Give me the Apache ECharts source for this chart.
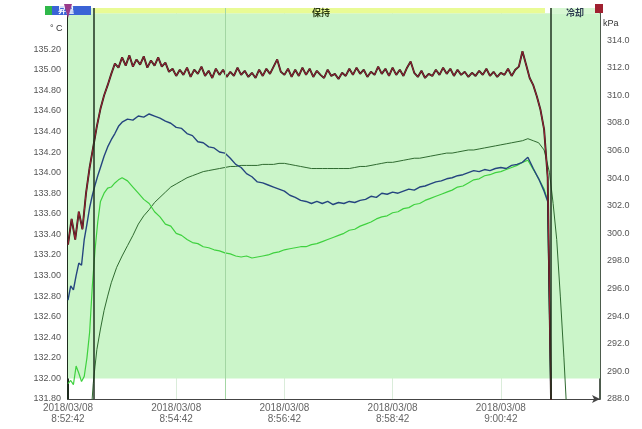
<!DOCTYPE html>
<html>
<head>
<meta charset="utf-8">
<script src="https://cdn.jsdelivr.net/npm/echarts@6/dist/echarts.min.js"></script>
<style>
  html, body { margin: 0; padding: 0; background: #ffffff; }
  #chart { width: 642px; height: 429px; }
</style>
</head>
<body>
<div id="chart"></div>
<script>
// Elapsed seconds from the start of the run (2018/03/08 8:52:42)
const runDate = '2018/03/08';
const startSec = 8 * 3600 + 52 * 60 + 42;
const xTickStep = 120;

// Phase boundaries (seconds) and phase labels
const phaseBounds = [29, 535];
const phaseNames = ['昇温', '保持', '冷却'];

// Temperature probe 1 (°C), sampled every 4 s
const probe1Times = [0,4,8,12,16,20,24,28,32,36,40,44,48,52,56,60,64,68,72,76,80,84,88,92,96,100,104,108,112,116,120,124,128,132,136,140,144,148,152,156,160,164,168,172,176,180,184,188,192,196,200,204,208,212,216,220,224,228,232,236,240,244,248,252,256,260,264,268,272,276,280,284,288,292,296,300,304,308,312,316,320,324,328,332,336,340,344,348,352,356,360,364,368,372,376,380,384,388,392,396,400,404,408,412,416,420,424,428,432,436,440,444,448,452,456,460,464,468,472,476,480,484,488,492,496,500,504,508,512,516,520,524,528,532,536];
const probe1Vals = [133.30,133.55,133.35,133.62,133.45,133.80,134.05,134.25,134.45,134.62,134.75,134.85,134.96,135.06,135.02,135.12,135.04,135.14,135.03,135.10,135.05,135.13,135.02,135.09,135.04,135.12,135.03,135.07,134.98,135.01,134.94,135.00,134.95,135.02,134.93,135.00,134.96,135.03,134.94,134.99,134.92,135.01,134.95,135.00,134.93,134.98,134.94,135.02,134.95,134.99,134.93,134.97,134.92,135.00,134.94,135.01,134.96,135.03,135.10,134.98,134.95,135.01,134.93,135.00,134.94,135.02,134.95,135.01,134.93,134.99,134.95,134.92,135.00,134.94,134.96,134.91,134.97,134.94,135.01,134.95,135.02,134.96,135.00,134.93,134.98,134.95,135.03,134.96,135.01,134.94,135.02,134.95,135.00,134.94,135.02,135.08,134.97,134.93,134.99,134.92,134.96,134.94,135.00,134.95,135.02,134.96,135.01,134.94,135.00,134.95,134.98,134.93,134.97,134.94,134.99,134.95,135.01,134.94,134.98,134.93,134.97,134.95,135.01,134.94,135.00,135.03,135.18,135.05,134.92,134.85,134.74,134.61,134.42,133.95,131.60];

// Probes 2 and 3 (°C) share one time base
const probe23Times = [0,3,6,9,12,15,18,21,24,27,30,33,36,40,44,48,52,56,60,66,72,78,84,90,96,102,108,114,120,126,132,138,144,150,156,162,168,174,180,186,192,198,204,210,216,222,228,234,240,246,252,258,264,270,276,282,288,294,300,306,312,318,324,330,336,342,348,354,360,366,372,378,384,390,396,402,408,414,420,426,432,438,444,450,456,462,468,474,480,486,492,498,504,510,516,522,528,532,536];
const probe2Vals = [132.76,132.90,132.86,133.00,133.12,133.10,133.35,133.50,133.66,133.78,133.88,133.97,134.05,134.16,134.25,134.32,134.38,134.45,134.49,134.52,134.51,134.55,134.54,134.57,134.55,134.53,134.50,134.48,134.44,134.43,134.38,134.36,134.30,134.29,134.25,134.24,134.20,134.19,134.14,134.08,134.05,133.99,133.96,133.91,133.90,133.88,133.86,133.84,133.82,133.78,133.76,133.73,133.72,133.70,133.72,133.70,133.72,133.69,133.71,133.70,133.72,133.71,133.73,133.74,133.77,133.76,133.80,133.79,133.81,133.80,133.82,133.84,133.83,133.86,133.87,133.89,133.91,133.92,133.94,133.95,133.97,133.98,134.00,134.02,134.01,134.03,134.02,134.04,134.05,134.04,134.07,134.08,134.10,134.15,134.04,133.94,133.82,133.72,131.60];
const probe3Vals = [131.95,131.98,131.94,132.12,132.05,131.97,132.02,132.20,132.45,132.90,133.25,133.52,133.72,133.80,133.85,133.86,133.90,133.93,133.95,133.92,133.86,133.80,133.74,133.70,133.62,133.57,133.50,133.48,133.41,133.39,133.35,133.32,133.31,133.28,133.27,133.25,133.24,133.22,133.21,133.19,133.18,133.19,133.17,133.18,133.19,133.20,133.22,133.23,133.25,133.26,133.27,133.28,133.28,133.30,133.31,133.33,133.35,133.37,133.39,133.41,133.44,133.45,133.48,133.50,133.52,133.55,133.57,133.58,133.61,133.62,133.65,133.66,133.69,133.70,133.73,133.75,133.77,133.79,133.81,133.83,133.86,133.87,133.90,133.93,133.94,133.97,133.98,134.00,134.01,134.03,134.05,134.07,134.10,134.12,134.03,133.94,133.84,133.73,131.60];

// Probe 4 (°C), slow-responding sensor
const probe4Times = [26,28,30,32,36,40,44,48,54,60,66,72,78,84,90,96,102,108,114,120,126,132,138,144,150,156,162,168,174,180,186,192,198,204,210,216,222,228,234,240,246,252,258,264,270,276,282,288,294,300,306,312,318,324,330,336,342,348,354,360,366,372,378,384,390,396,402,408,414,420,426,432,438,444,450,456,462,468,474,480,486,492,498,504,510,516,522,528,534,538,542,546,550,553];
const probe4Vals = [131.70,131.95,132.12,132.28,132.48,132.66,132.80,132.93,133.08,133.19,133.29,133.39,133.50,133.58,133.64,133.71,133.76,133.81,133.86,133.89,133.92,133.95,133.97,133.99,134.01,134.02,134.03,134.04,134.05,134.06,134.06,134.07,134.07,134.07,134.07,134.08,134.08,134.08,134.09,134.09,134.08,134.07,134.06,134.05,134.04,134.04,134.04,134.04,134.04,134.04,134.04,134.04,134.05,134.06,134.06,134.07,134.08,134.09,134.10,134.10,134.11,134.12,134.13,134.14,134.14,134.15,134.16,134.17,134.18,134.19,134.19,134.20,134.21,134.22,134.22,134.23,134.24,134.25,134.26,134.27,134.28,134.29,134.30,134.31,134.33,134.31,134.29,134.22,134.00,133.70,133.35,132.80,132.20,131.70];

// Axis ranges
const tempMin = 131.8, tempMax = 135.6, tempStep = 0.2, tempLabelTop = 135.2;
const presMin = 288, presMax = 316.32, presStep = 2, presLabelTop = 314;
const timeMax = 590;

function pairs(ts, vs) { return ts.map((t, i) => [t, vs[i]]); }
function clock(sec) {
  const s = startSec + sec;
  const h = Math.floor(s / 3600), m = Math.floor((s % 3600) / 60), ss = s % 60;
  return h + ':' + String(m).padStart(2, '0') + ':' + String(ss).padStart(2, '0');
}

const labelFont = { fontFamily: 'Liberation Sans, Arial, sans-serif', fontSize: 9, color: '#555' };

const chart = echarts.init(document.getElementById('chart'), null, { renderer: 'canvas' });

const option = {
  animation: false,
  backgroundColor: '#ffffff',
  grid: { left: 68, right: 42, top: 8, bottom: 30, containLabel: false },
  xAxis: {
    type: 'value', min: 0, max: timeMax, interval: xTickStep,
    axisLine: { lineStyle: { color: '#444', width: 1.2 }, symbol: ['none', 'arrow'], symbolSize: [6, 8] },
    axisTick: { show: false },
    splitLine: { show: true, lineStyle: { color: 'rgba(150,200,150,0.35)', width: 1 } },
    axisLabel: Object.assign({}, labelFont, {
      fontSize: 10, lineHeight: 11, margin: 4, color: '#666',
      formatter: v => runDate + '\n' + clock(v),
      showMaxLabel: false
    })
  },
  yAxis: [
    {
      type: 'value', min: tempMin, max: tempMax, interval: tempStep, position: 'left',
      axisLine: { show: true, lineStyle: { color: '#1d2b1d', width: 2 } },
      axisTick: { show: false },
      splitLine: { show: true, lineStyle: { color: 'rgba(255,255,255,0.5)', width: 1 } },
      axisLabel: Object.assign({}, labelFont, {
        margin: 7,
        formatter: v => v > tempLabelTop + 0.001 ? '' : v.toFixed(2)
      })
    },
    {
      type: 'value', min: presMin, max: presMax, interval: presStep, position: 'right',
      axisLine: { show: true, lineStyle: { color: '#1d2b1d', width: 1.5 } },
      axisTick: { show: false },
      splitLine: { show: false },
      axisLabel: Object.assign({}, labelFont, {
        margin: 7,
        formatter: v => v > presLabelTop + 0.01 ? '' : v.toFixed(1)
      })
    }
  ],
  series: [
    {
      // background bands: process zone and phase strip
      type: 'line', data: [], silent: true,
      markArea: {
        silent: true,
        data: [
          [{ xAxis: 0, yAxis: 132.0, itemStyle: { color: '#cbf5c9' } }, { xAxis: timeMax, yAxis: tempMax - 0.05 }],
          [{ xAxis: 0, yAxis: tempMax - 0.05, itemStyle: { color: '#d7f7d2' } }, { xAxis: phaseBounds[0], yAxis: tempMax }],
          [{ xAxis: phaseBounds[0], yAxis: tempMax - 0.05, itemStyle: { color: '#e9fb95' } }, { xAxis: phaseBounds[1] - 6, yAxis: tempMax }],
          [{ xAxis: phaseBounds[1], yAxis: tempMax - 0.05, itemStyle: { color: '#d7f7d2' } }, { xAxis: timeMax, yAxis: tempMax }]
        ]
      },
      markLine: {
        silent: true, symbol: 'none', label: { show: false },
        data: [
          { xAxis: 174, lineStyle: { color: '#a3d6a3', width: 1, type: 'solid' } },
          { xAxis: phaseBounds[0], lineStyle: { color: '#1f321f', width: 1.5, type: 'solid' } },
          { xAxis: phaseBounds[1], lineStyle: { color: '#1f321f', width: 1.5, type: 'solid' } }
        ]
      }
    },
    {
      name: '温度4', type: 'line', showSymbol: false, symbol: 'none',
      data: pairs(probe4Times, probe4Vals),
      lineStyle: { color: '#2f6a30', width: 1 }
    },
    {
      name: '温度3', type: 'line', showSymbol: false, symbol: 'none',
      data: pairs(probe23Times, probe3Vals),
      lineStyle: { color: '#3fd13f', width: 1.2 }
    },
    {
      name: '温度2', type: 'line', showSymbol: false, symbol: 'none',
      data: pairs(probe23Times, probe2Vals),
      lineStyle: { color: '#25457f', width: 1.4 }
    },
    {
      name: '温度1', type: 'line', showSymbol: false, symbol: 'none',
      data: pairs(probe1Times, probe1Vals),
      lineStyle: { color: '#2a1a1a', width: 1.9 }
    },
    {
      name: '温度1', type: 'line', showSymbol: false, symbol: 'none',
      data: pairs(probe1Times, probe1Vals),
      lineStyle: { color: '#9a2433', width: 1 }
    }
  ],
  graphic: [
    { type: 'text', left: 50, top: 24, z: 100, style: { text: '° C', font: '9px Liberation Sans, Arial', fill: '#333' } },
    { type: 'text', left: 603, top: 19, z: 100, style: { text: 'kPa', font: '9px Liberation Sans, Arial', fill: '#333' } },
    { type: 'rect', z: 100, shape: { x: 45, y: 6, width: 7, height: 9 }, style: { fill: '#2fb84a' } },
    { type: 'rect', z: 100, shape: { x: 52, y: 6, width: 39, height: 9 }, style: { fill: '#3a63d6' } },
    { type: 'text', z: 101, x: 58, y: 6, style: { text: phaseNames[0], font: 'bold 8px "Noto Sans CJK JP"', fill: '#ffffff', textVerticalAlign: 'top' } },
    { type: 'polygon', z: 101, shape: { points: [[64, 4], [72, 4], [68, 18]] }, style: { fill: '#9a3a8a' } },
    { type: 'text', z: 101, x: 312, y: 8, style: { text: phaseNames[1], font: 'bold 9px "Noto Sans CJK JP"', fill: '#2b3b12', textVerticalAlign: 'top' } },
    { type: 'text', z: 101, x: 566, y: 8, style: { text: phaseNames[2], font: 'bold 9px "Noto Sans CJK JP"', fill: '#2b3b50', textVerticalAlign: 'top' } },
    { type: 'rect', z: 100, shape: { x: 595, y: 4, width: 8, height: 9 }, style: { fill: '#a02030' } }
  ]
};

chart.setOption(option);
</script>
</body>
</html>
